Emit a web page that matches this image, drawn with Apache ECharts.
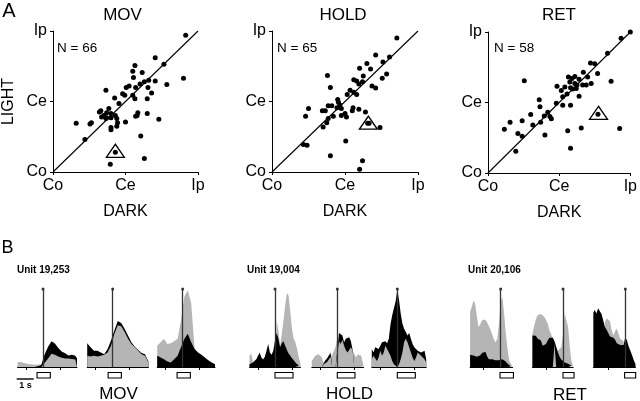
<!DOCTYPE html>
<html><head><meta charset="utf-8">
<script src="https://cdn.jsdelivr.net/npm/echarts@6/dist/echarts.min.js"></script>
<style>html,body{margin:0;padding:0;background:#fff}#c{width:640px;height:401px}</style>
</head><body><div id="c"></div>
<script>
// ---------- Panel A: scatter data (DARK on x, LIGHT on y; Co=0, Ce=1, Ip=2) ----------
const tickValues = [0, 1, 2];
const tickLabels = ['Co', 'Ce', 'Ip'];
const conditions = ['MOV', 'HOLD', 'RET'];
const nLabels = ['N = 66', 'N = 65', 'N = 58'];

const movDark = [1.83,1.41,1.53,1.13,1.10,1.23,1.11,1.80,1.32,1.41,1.26,1.20,1.57,1.05,1.01,1.14,1.31,0.73,1.36,0.96,0.99,1.10,0.85,1.13,1.30,0.91,0.77,0.66,0.64,0.74,0.80,0.70,1.17,1.30,1.14,0.67,0.74,0.80,0.86,1.16,0.73,0.88,1.46,0.32,0.53,0.51,0.89,1.00,0.80,0.80,0.88,0.44,1.21,1.26,0.79,0.86];
const movLight = [1.94,1.62,1.53,1.51,1.43,1.41,1.34,1.33,1.30,1.29,1.28,1.25,1.24,1.22,1.20,1.20,1.20,1.16,1.12,1.11,1.09,1.09,1.05,1.04,1.04,0.97,0.90,0.87,0.85,0.84,0.83,0.80,0.84,0.83,0.79,0.78,0.77,0.77,0.80,0.80,0.76,0.76,0.75,0.69,0.70,0.68,0.70,0.71,0.63,0.60,0.65,0.46,0.51,0.19,0.11,0.28];
const holdDark = [1.71,1.42,1.61,1.52,1.30,1.20,1.35,1.57,1.51,0.76,1.25,1.12,1.16,1.24,1.19,0.80,1.37,1.42,1.07,1.12,1.03,1.16,0.90,0.91,0.93,0.77,0.82,0.50,0.69,0.73,0.89,0.95,1.11,1.10,1.19,1.28,1.00,0.95,1.02,0.46,0.84,0.77,0.75,0.70,1.48,1.33,1.01,0.43,0.48,0.80,1.24,1.20,1.31];
const holdLight = [1.90,1.66,1.63,1.56,1.54,1.47,1.46,1.39,1.33,1.37,1.36,1.31,1.29,1.28,1.25,1.20,1.22,1.19,1.16,1.13,1.10,1.10,1.03,0.99,0.95,0.94,0.94,0.90,0.87,0.87,0.91,0.90,0.91,0.87,0.89,0.85,0.83,0.80,0.78,0.79,0.79,0.76,0.70,0.64,0.63,0.69,0.44,0.39,0.38,0.23,0.16,0.04,0.69];
const retDark = [2.0,1.87,1.68,1.44,1.50,1.34,1.54,0.51,1.73,1.13,1.18,1.22,1.28,1.40,1.15,1.22,1.25,1.33,1.38,1.45,0.97,1.08,1.16,1.19,1.24,1.03,1.11,1.28,1.05,0.72,0.96,1.05,1.16,0.73,0.84,0.60,0.79,0.89,0.87,0.31,0.48,0.74,0.63,0.23,1.31,1.85,1.12,0.42,0.48,0.80,1.16,0.39,1.545];
const retLight = [2.0,1.91,1.70,1.56,1.55,1.43,1.41,1.31,1.30,1.36,1.34,1.37,1.33,1.36,1.29,1.27,1.25,1.25,1.25,1.27,1.23,1.22,1.21,1.19,1.20,1.17,1.12,1.09,1.08,1.04,0.99,0.96,0.96,0.94,0.86,0.83,0.81,0.77,0.80,0.72,0.74,0.72,0.68,0.62,0.64,0.63,0.60,0.56,0.52,0.54,0.35,0.31,0.834];
// example units (open triangles)
const triDark = [0.86, 1.32, 1.553];
const triLight = [0.30, 0.70, 0.853];

// ---------- Panel B: histograms (time in s relative to line; normalised rate) ----------
const m1T = [-1.5,-1.3,-1.1,-0.9,-0.7,-0.5,-0.3,-0.1,0.1,0.3,0.5,0.7,0.9,1.1,1.3,1.5,1.7,1.9,2.0];
const m1Gray = [0.06,0.065,0.05,0.04,0.035,0.03,0.03,0.035,0.055,0.11,0.17,0.157,0.135,0.12,0.11,0.11,0.104,0.096,0.078];
const m1Black = [0,0,0,0,0,0,0.01,0.026,0.165,0.26,0.33,0.30,0.245,0.2,0.175,0.148,0.157,0.143,0.113];

const m2T = [-1.5,-1.3,-1.1,-0.9,-0.7,-0.5,-0.3,-0.1,0.1,0.3,0.5,0.7,0.9,1.1,1.3,1.5,1.7,1.9,2.1];
const m2Gray = [0.143,0.135,0.143,0.135,0.143,0.157,0.187,0.274,0.426,0.535,0.522,0.448,0.361,0.296,0.252,0.209,0.165,0.143,0.057];
const m2Black = [0.304,0.252,0.209,0.209,0.187,0.165,0.23,0.339,0.470,0.591,0.565,0.491,0.404,0.317,0.261,0.217,0.178,0.165,0.07];

const m3T = [-1.5,-1.3,-1.1,-0.9,-0.7,-0.5,-0.3,-0.1,0.1,0.3,0.5,0.7,0.9,1.1,1.3,1.5,1.7,1.9];
const m3Gray = [0.274,0.317,0.361,0.296,0.304,0.330,0.361,0.6,0.904,0.983,0.817,0.23,0.187,0.157,0.122,0.087,0.057,0.035];
const m3Black = [0.143,0.122,0.1,0.07,0.057,0.1,0.143,0.252,0.361,0.426,0.317,0.23,0.187,0.157,0.122,0.087,0.057,0.035];

const h1T = [-1.5,-1.4,-1.3,-1.2,-1.1,-1.0,-0.9,-0.8,-0.7,-0.6,-0.5,-0.4,-0.3,-0.2,-0.1,0,0.1,0.2,0.3,0.4,0.5,0.6,0.7,0.8,0.9,1.0,1.1,1.2,1.3,1.4,1.5];
const h1Gray = [0.143,0.174,0.078,0,0,0,0,0,0,0,0,0,0,0,0,0,0.591,0.47,0.274,0.426,0.6,0.796,0.948,0.913,0.709,0.491,0.361,0.317,0.23,0.122,0.043];
const h1Black = [0.035,0.043,0.057,0.07,0.1,0.143,0.187,0.122,0.096,0.13,0.209,0.296,0.187,0.157,0.209,0.339,0.435,0.361,0.252,0.304,0.33,0.274,0.217,0.174,0.143,0.113,0.087,0.057,0.035,0.017,0.004];

const h2T = [-1.5,-1.4,-1.3,-1.2,-1.1,-1.0,-0.9,-0.8,-0.7,-0.6,-0.5,-0.4,-0.3,-0.2,-0.1,0,0.1,0.2,0.3,0.4,0.5,0.6,0.7,0.8,0.9,1.0,1.1,1.2,1.3,1.4,1.5,1.55];
const h2Gray = [0.078,0.113,0.143,0.157,0.165,0.165,0.122,0.035,0.043,0.065,0.087,0.13,0.157,0.209,0.261,0.361,0.330,0.296,0.348,0.274,0.217,0.187,0.209,0.252,0.209,0.174,0.122,0.165,0.187,0.143,0.057,0.013];
const h2Black = [0,0,0,0,0,0,0,0.052,0.087,0.113,0.148,0.187,0,0,0,0,0.435,0.426,0.404,0.317,0.361,0.383,0.383,0.330,0.217,0,0,0,0,0,0,0];

const h3T = [-1.5,-1.4,-1.3,-1.2,-1.1,-1.0,-0.9,-0.8,-0.7,-0.6,-0.5,-0.4,-0.3,-0.2,-0.1,0,0.1,0.2,0.3,0.4,0.5,0.6,0.7,0.8,0.9,1.0,1.1,1.2,1.3,1.4,1.5,1.6,1.7];
const h3Gray = [0.1,0.143,0.122,0.078,0.122,0.209,0.143,0.187,0.274,0.23,0.209,0.143,0.078,0.035,0.013,0,0.035,0.1,0.187,0.317,0.361,0.317,0.252,0.187,0.122,0.078,0.122,0.187,0.165,0.143,0.122,0.1,0.057];
const h3Black = [0.23,0.187,0.252,0.261,0.23,0.274,0.317,0.296,0.33,0.304,0.361,0.548,0.665,0.752,0.839,0.991,0.861,0.687,0.557,0.491,0.448,0.404,0.435,0.361,0.296,0.252,0.274,0.209,0.23,0.187,0.165,0.209,0.1];

const r1T = [-1.8,-1.7,-1.6,-1.5,-1.4,-1.3,-1.2,-1.1,-1.0,-0.9,-0.8,-0.7,-0.6,-0.5,-0.4,-0.3,-0.2,-0.1,0,0.1,0.2,0.3,0.4,0.5,0.6,0.7];
const r1Gray = [0.709,0.774,0.852,0.809,0.643,0.513,0.548,0.6,0.622,0.609,0.574,0.526,0.478,0.417,0.352,0.313,0.361,0.557,0.835,0.9,0.687,0.426,0.23,0.087,0.035,0.009];
const r1Black = [0.157,0.165,0.148,0.157,0.13,0.13,0.152,0.178,0.196,0.196,0.139,0.1,0.091,0.1,0.078,0.087,0.078,0.087,0.078,0.1,0.087,0.07,0.043,0.022,0.009,0];

const r2T = [-1.8,-1.7,-1.6,-1.5,-1.4,-1.3,-1.2,-1.1,-1.0,-0.9,-0.8,-0.7,-0.6,-0.5,-0.4,-0.3,-0.2,-0.1,0,0.1,0.2,0.3,0.4,0.5,0.6];
const r2Gray = [0.426,0.522,0.609,0.665,0.687,0.678,0.661,0.643,0.665,0.557,0.47,0.417,0.374,0.296,0.28,0.209,0.209,0.252,0.426,0.687,0.709,0.513,0.252,0.07,0.013];
const r2Black = [0.404,0.417,0.4,0.365,0.383,0.339,0.274,0.252,0.296,0.339,0.374,0.391,0.374,0.33,0.261,0.187,0.13,0.096,0.078,0.057,0.057,0.043,0.03,0.017,0.004];

const r3T = [-1.88,-1.8,-1.7,-1.6,-1.5,-1.4,-1.3,-1.2,-1.1,-1.0,-0.9,-0.8,-0.7,-0.6,-0.5,-0.4,-0.3,-0.2,-0.1,0,0.1,0.2,0.3,0.4,0.5,0.6];
const r3Gray = [0,0,0,0,0,0,0,0.578,0.622,0.643,0.591,0.47,0.404,0.461,0.491,0.426,0.361,0.383,0.33,0,0,0,0,0,0,0];
const r3Black = [0.696,0.730,0.687,0.752,0.752,0.678,0.6,0.513,0.478,0.457,0.391,0.37,0.374,0.348,0.304,0.313,0.283,0.291,0.283,0.383,0.339,0.261,0.209,0.152,0.087,0.035];

const stimRects = [[-0.35,0.43],[-0.27,0.51],[-0.33,0.45],[0,1.06],[0,1.04],[0,1.06],[-0.04,0.75],[0,0.65],[-0.04,0.61]];
const histTicks = [-1, 1];
const scaleBar = [-1.55, -0.55];  // 1 s
const unitLabels = ['Unit 19,253', 'Unit 19,004', 'Unit 20,106'];

// ---------- layout / style ----------
const FONT = '"Liberation Sans", Arial, Helvetica, sans-serif';
const GRAY = '#b5b5b5';
const scatterGrids = [
  {left: 52, top: 31, width: 146, height: 141},
  {left: 272, top: 31, width: 146, height: 141},
  {left: 488, top: 32, width: 146, height: 141}
];
const histZeroPx = [43, 112.7, 182.7, 275, 337.3, 397.3, 500.7, 563, 625.3];
const PX_PER_S = 17, HIST_TOP = 289, HIST_H = 78;

const scatterSets = [[movDark, movLight], [holdDark, holdLight], [retDark, retLight]];
const histSets = [
  [m1T, m1Gray, m1Black], [m2T, m2Gray, m2Black], [m3T, m3Gray, m3Black],
  [h1T, h1Gray, h1Black], [h2T, h2Gray, h2Black], [h3T, h3Gray, h3Black],
  [r1T, r1Gray, r1Black], [r2T, r2Gray, r2Black], [r3T, r3Gray, r3Black]
];

const grid = [], xAxis = [], yAxis = [], series = [];

scatterSets.forEach((set, k) => {
  grid.push(Object.assign({containLabel: false}, scatterGrids[k]));
  const axBase = {
    type: 'value', gridIndex: k, min: tickValues[0], max: tickValues[tickValues.length - 1], interval: 1,
    axisLine: {show: true, onZero: false, lineStyle: {color: '#000', width: 1}},
    axisTick: {show: true, length: 3, lineStyle: {color: '#000', width: 1}},
    axisLabel: {color: '#000', fontSize: 16, fontFamily: FONT, margin: 6,
      formatter: v => tickLabels[tickValues.indexOf(v)] || ''},
    splitLine: {show: false}
  };
  xAxis.push(Object.assign({}, axBase, {
    name: 'DARK', nameLocation: 'middle', nameGap: 32,
    nameTextStyle: {color: '#000', fontSize: 16, fontFamily: FONT}
  }));
  yAxis.push(Object.assign({}, axBase, k === 0 ? {
    name: 'LIGHT', nameLocation: 'middle', nameGap: 36, nameRotate: 90,
    nameTextStyle: {color: '#000', fontSize: 16, fontFamily: FONT}
  } : {}));
  const lo = tickValues[0], hi = tickValues[tickValues.length - 1];
  series.push({type: 'line', xAxisIndex: k, yAxisIndex: k, data: [[lo, lo], [hi, hi]],
    symbol: 'none', lineStyle: {color: '#000', width: 1.1}, silent: true, z: 2, animation: false});
  series.push({type: 'scatter', xAxisIndex: k, yAxisIndex: k, clip: false,
    data: set[0].map((d, i) => [d, set[1][i]]), symbolSize: 5,
    itemStyle: {color: '#000', opacity: 1}, silent: true, z: 4, animation: false});
  series.push({type: 'scatter', xAxisIndex: k, yAxisIndex: k, clip: false,
    data: [[triDark[k], triLight[k]]], symbol: 'triangle', symbolSize: [18, 13],
    itemStyle: {color: 'rgba(255,255,255,0)', borderColor: '#000', borderWidth: 1.3, opacity: 1},
    silent: true, z: 5, animation: false});
});

histSets.forEach((set, p) => {
  const gi = 3 + p;
  const T = set[0], G = set[1], B = set[2];
  const tmin = T[0], tmax = T[T.length - 1];
  grid.push({left: histZeroPx[p] + tmin * PX_PER_S, top: HIST_TOP,
    width: (tmax - tmin) * PX_PER_S, height: HIST_H});
  xAxis.push({type: 'value', gridIndex: gi, min: tmin, max: tmax,
    axisLine: {show: true, onZero: false, lineStyle: {color: '#000', width: 1}},
    axisTick: {show: true, customValues: histTicks, length: 3, lineStyle: {color: '#000', width: 1}},
    axisLabel: {show: false}, splitLine: {show: false}});
  yAxis.push({type: 'value', gridIndex: gi, min: 0, max: 1, show: false});
  const base = {type: 'line', xAxisIndex: gi, yAxisIndex: gi, symbol: 'none', silent: true,
    animation: false, lineStyle: {width: 0}};
  series.push(Object.assign({}, base, {data: T.map((t, i) => [t, G[i]]),
    areaStyle: {color: GRAY, opacity: 1}, z: 2}));
  series.push(Object.assign({}, base, {data: T.map((t, i) => [t, B[i]]),
    areaStyle: {color: '#000', opacity: 1}, z: 3}));
  // where the gray trace is the lower one, it is drawn in front
  series.push(Object.assign({}, base, {data: T.map((t, i) => [t, G[i] < B[i] ? G[i] : 0]),
    areaStyle: {color: GRAY, opacity: 1}, z: 4,
    markLine: {silent: true, animation: false, symbol: ['none', 'circle'], symbolSize: 3,
      label: {show: false}, lineStyle: {color: '#333', width: 1.3, type: 'solid'},
      data: [{xAxis: 0}]}}));
  series.push({type: 'custom', xAxisIndex: gi, yAxisIndex: gi, clip: false, silent: true,
    animation: false, data: [stimRects[p]], z: 6,
    renderItem: (params, api) => {
      const p1 = api.coord([api.value(0), 0]);
      const p2 = api.coord([api.value(1), 0]);
      return {type: 'rect', shape: {x: p1[0], y: p1[1] + 5.5, width: p2[0] - p1[0], height: 5.5},
        style: {fill: '#fff', stroke: '#000', lineWidth: 1.1}};
    }});
  if (p === 0) {
    series.push({type: 'custom', xAxisIndex: gi, yAxisIndex: gi, clip: false, silent: true,
      animation: false, data: [scaleBar], z: 6,
      renderItem: (params, api) => {
        const p1 = api.coord([api.value(0), 0]);
        const p2 = api.coord([api.value(1), 0]);
        return {type: 'line', shape: {x1: p1[0], y1: p1[1] + 12, x2: p2[0], y2: p2[1] + 12},
          style: {stroke: '#000', lineWidth: 1.4}};
      }});
  }
});

const txt = (text, x, y, size, opts) => ({type: 'text', x: x, y: y, silent: true,
  style: Object.assign({text: text, fill: '#000', font: size + 'px ' + FONT,
    align: 'center', verticalAlign: 'middle'}, opts || {})});

const graphic = [
  txt('A', 9, 11.5, 20),
  txt('B', 7.5, 248.5, 18),
  txt(conditions[0], 122.5, 15, 17), txt(conditions[1], 343, 15, 17), txt(conditions[2], 559, 15.5, 17),
  txt(nLabels[0], 57, 48, 13.5, {align: 'left'}),
  txt(nLabels[1], 277, 48, 13.5, {align: 'left'}),
  txt(nLabels[2], 494, 48.5, 13.5, {align: 'left'}),
  txt(unitLabels[0], 17, 270.5, 10, {align: 'left', font: 'bold 10px ' + FONT}),
  txt(unitLabels[1], 247, 270.5, 10, {align: 'left', font: 'bold 10px ' + FONT}),
  txt(unitLabels[2], 468, 270.5, 10, {align: 'left', font: 'bold 10px ' + FONT}),
  txt(conditions[0], 118.5, 394, 17), txt(conditions[1], 349.5, 394.5, 17), txt(conditions[2], 570, 395, 17),
  txt('1 s', 25.5, 386, 9, {font: 'bold 9px ' + FONT})
];

const chart = echarts.init(document.getElementById('c'), null, {renderer: 'canvas'});
chart.setOption({animation: false, backgroundColor: '#fff', grid: grid, xAxis: xAxis, yAxis: yAxis,
  series: series, graphic: graphic});
</script></body></html>
